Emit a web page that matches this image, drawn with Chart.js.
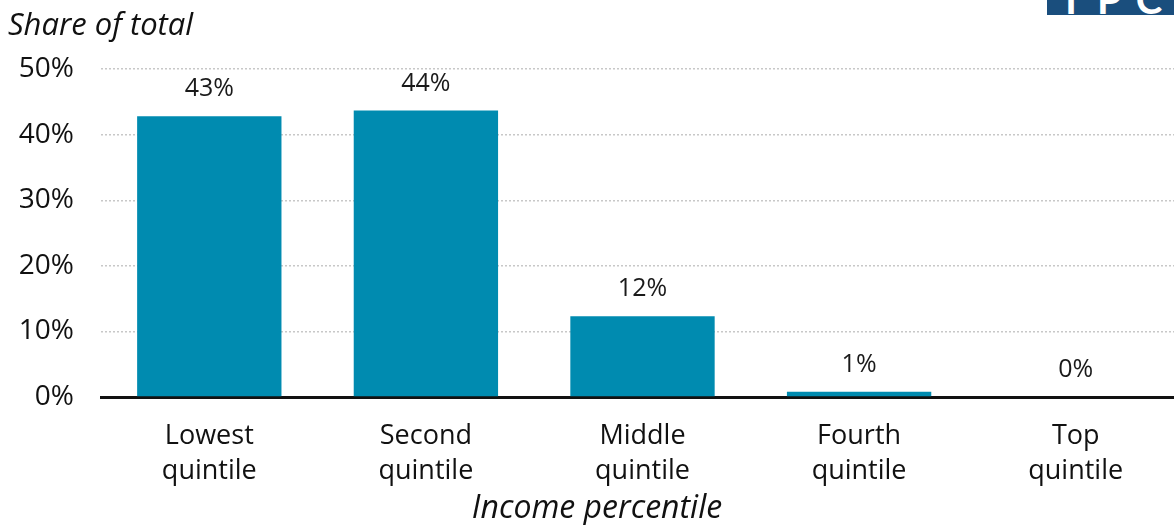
<!DOCTYPE html>
<html>
<head>
<meta charset="utf-8">
<script src="https://cdn.jsdelivr.net/npm/chart.js@4.4.0/dist/chart.umd.min.js"></script>
<style>
  html, body { margin: 0; padding: 0; background: #fff; overflow: hidden; }
  .wrap { position: relative; width: 1174px; height: 525px; overflow: hidden; }
  .box { position: absolute; left: 0; top: 0; width: 1184px; height: 525px; }
  .logo {
    position: absolute; left: 1047px; top: 0; width: 127px; height: 15px;
    background: #1a4e7d; overflow: hidden;
  }
  .logo span {
    position: absolute; left: 12px; bottom: -4px; color: #fff;
    font: bold 40px Lato, sans-serif; letter-spacing: 14px; line-height: 1;
  }
</style>
</head>
<body>
<div class="wrap">
  <div class="box"><canvas id="chart" width="1184" height="525"></canvas></div>
  <div class="logo"><span>TPC</span></div>
</div>
<script>
// data
const categories = [
  ["Lowest", "quintile"],
  ["Second", "quintile"],
  ["Middle", "quintile"],
  ["Fourth", "quintile"],
  ["Top", "quintile"],
];
const shares = [42.8, 43.7, 12.3, 0.8, 0];
const shareLabels = ["43%", "44%", "12%", "1%", "0%"];
const xTitle = "Income percentile";

const FONT = "'Open Sans', Lato, sans-serif";

// value labels above bars + x axis title (centred on the page, not the plot)
const valueLabels = {
  id: "valueLabels",
  afterDatasetsDraw(chart) {
    const ctx = chart.ctx;
    const meta = chart.getDatasetMeta(0);
    ctx.save();
    ctx.font = "25px " + FONT;
    ctx.fillStyle = "#1a1a1a";
    ctx.textAlign = "center";
    ctx.textBaseline = "middle";
    meta.data.forEach((bar, i) => {
      ctx.fillText(shareLabels[i], bar.x, bar.y - 27);
    });
    ctx.font = "italic 32px " + FONT;
    ctx.fillStyle = "#111";
    ctx.fillText(xTitle, 597, 509);
    ctx.restore();
  },
};

new Chart(document.getElementById("chart"), {
  type: "bar",
  data: {
    labels: categories,
    datasets: [
      {
        data: shares,
        backgroundColor: "#008bb0",
        barPercentage: 0.8,
        categoryPercentage: 0.833,
      },
    ],
  },
  options: {
    responsive: false,
    animation: false,
    layout: { padding: { left: 8, right: 0, top: 9, bottom: 0 } },
    plugins: {
      legend: { display: false },
      tooltip: { enabled: false },
      title: {
        display: true,
        text: "Share of total",
        align: "start",
        color: "#111",
        font: { family: FONT, size: 31, style: "italic", weight: "normal", lineHeight: 1.1 },
        padding: { top: 0, bottom: 26 },
      },
    },
    scales: {
      x: {
        grid: { display: false },
        border: { display: true, color: "#111", width: 3 },
        ticks: {
          color: "#111",
          font: { family: FONT, size: 27, lineHeight: 1.3 },
          padding: 14,
          maxRotation: 0,
        },
        afterFit: (scale) => { scale.height = 128; },
      },
      y: {
        min: 0,
        max: 50,
        border: { display: false, dash: [2, 2] },
        grid: {
          drawTicks: false,
          color: (c) => (c.tick.value === 0 ? "rgba(0,0,0,0)" : "#c8c8c8"),
          lineWidth: 1.5,
        },
        ticks: {
          stepSize: 10,
          color: "#111",
          font: { family: FONT, size: 28 },
          padding: 27,
          callback: (v) => v + "%",
        },
        afterFit: (scale) => { scale.width = 93; },
      },
    },
  },
  plugins: [valueLabels],
});
</script>
</body>
</html>
